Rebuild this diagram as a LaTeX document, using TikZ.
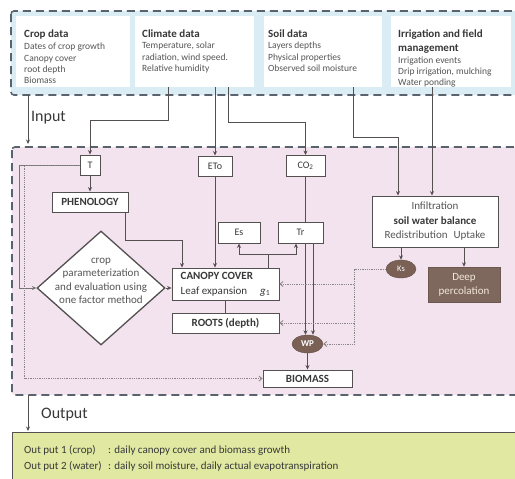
\documentclass[tikz,border=0pt]{standalone}
\usepackage{fontspec}
\setmainfont{Carlito}
\usetikzlibrary{arrows.meta,shapes.geometric}
\definecolor{bandblue}{HTML}{DAEDF4}
\definecolor{pinkbg}{HTML}{F2E3EE}
\definecolor{greenbg}{HTML}{E0E8A2}
\definecolor{brownfill}{HTML}{7A6055}
\definecolor{deepfill}{HTML}{7E685E}
\definecolor{deeptxt}{HTML}{F3E6DA}
\definecolor{framecol}{HTML}{59636E}
\definecolor{linecol}{HTML}{545050}
\definecolor{dotcol}{HTML}{8A8585}
\definecolor{txtcol}{HTML}{383838}
\definecolor{lighttxt}{HTML}{555555}
\begin{document}
\begin{tikzpicture}[x=1pt,y=-1pt,
  font=\fontsize{11}{13}\selectfont, text=txtcol,
  dframe/.style={draw=framecol, line width=1.6pt, dash pattern=on 8pt off 5pt, rounded corners=3pt},
  topbox/.style={fill=white, draw=none, anchor=north west, inner sep=0pt, minimum height=71pt},
  hdr/.style={anchor=north west, inner sep=0pt, align=left, font=\fontsize{11}{14}\selectfont\bfseries},
  bodytxt/.style={anchor=north west, inner sep=0pt, align=left, text=lighttxt, font=\fontsize{9.5}{11.3}\selectfont},
  nbox/.style={draw=linecol, fill=white, line width=0.9pt, inner sep=0pt, minimum height=20pt},
  small/.style={font=\fontsize{10}{12}\selectfont},
  bfl/.style={font=\fontsize{11}{13}\selectfont\bfseries},
  blob/.style={ellipse, fill=brownfill, draw=brownfill!85!black, text=white, inner sep=0pt},
  conn/.style={draw=linecol, line width=0.8pt},
  thinconn/.style={draw=linecol!80, line width=0.6pt},
  arr/.style={-{Stealth[length=4.5pt,width=4pt]}},
  dotconn/.style={draw=dotcol, line width=0.8pt, densely dotted, -{Straight Barb[length=3pt,width=5pt]}},
  biglabel/.style={anchor=west, inner sep=0pt, font=\fontsize{16}{18}\selectfont, text=txtcol}
]
\useasboundingbox (0,0) rectangle (515,479);
\clip (0,0) rectangle (515,479);

% ---- input band
\draw[dframe, fill=bandblue] (11,11) rectangle (545,95);
\node[topbox, minimum width=114pt] (crop) at (16,16) {};
\node[topbox, minimum width=119pt] (climate) at (135,16) {};
\node[topbox, minimum width=118pt] (soil) at (264,16) {};
\node[topbox, minimum width=120pt] (irr) at (391,16) {};

\node[hdr] (croph) at (24,29.5) {Crop data};
\node[bodytxt] (cropb) at (24,43) {Dates of crop growth\\Canopy cover\\root depth\\Biomass};
\node[hdr] (climh) at (142,29.5) {Climate data};
\node[bodytxt] (climb) at (142,42) {Temperature, solar\\radiation, wind speed.\\Relative humidity};
\node[hdr] (soilh) at (268,29.5) {Soil data};
\node[bodytxt] (soilb) at (268,42) {Layers depths\\Physical properties\\Observed soil moisture};
\node[hdr] (irrh) at (398,29.5) {Irrigation and field\\management};
\node[bodytxt] (irrb) at (398,56.5) {Irrigation events\\Drip irrigation, mulching\\Water ponding};

% ---- model frame
\draw[dframe, fill=pinkbg] (12,147) rectangle (545,395);

\coordinate (inS) at (28,95);
\coordinate (inE) at (28,144);
\draw[conn, arr] (inS) -- (inE);
\node[biglabel] (inlbl) at (31,118) {Input};

\coordinate (outS) at (28,395);
\coordinate (outE) at (28,431);
\draw[conn, arr] (outS) -- (outE);
\node[biglabel] (outlbl) at (41,415) {Output};

% ---- output box
\draw[draw=linecol, line width=1pt, fill=greenbg] (12,432) rectangle (545,495);
\node[anchor=west, inner sep=0pt, align=left, font=\fontsize{11}{16}\selectfont, text=txtcol] (outtxt) at (24,458)
  {\makebox[84pt][l]{Out put 1 (crop)}: daily canopy cover and biomass growth\\
   \makebox[84pt][l]{Out put 2 (water)}: daily soil moisture, daily actual evapotranspiration};

% ---- nodes
\node[nbox, small, minimum width=20pt] (T) at (90,165) {T};
\node[nbox, small, minimum width=34pt] (ETo) at (215,166) {ETo};
\node[nbox, small, minimum width=39pt, minimum height=21pt] (CO2) at (305.5,166) {CO\textsubscript{2}};
\node[nbox, bfl, minimum width=76pt] (PHEN) at (90,202) {PHENOLOGY};
\node[nbox, minimum width=126pt, minimum height=51pt, align=center, font=\fontsize{11}{14.5}\selectfont] (SWB) at (435,221.5)
  {\textcolor{lighttxt}{Infiltration}\\\textbf{soil water balance}\\\textcolor{lighttxt}{Redistribution\hspace{6pt}Uptake}};
\node[nbox, small, minimum width=42pt, minimum height=21pt] (Es) at (239,232.5) {Es};
\node[nbox, minimum width=107pt, minimum height=32pt, align=left, font=\fontsize{11}{15}\selectfont] (CAN) at (225.5,284)
  {\textbf{CANOPY COVER}\\Leaf expansion\hspace{13pt}\textit{g}\textsubscript{1}};
\node[nbox, bfl, minimum width=107pt] (ROOTS) at (225.5,323) {ROOTS (depth)};
\node[blob, minimum width=31pt, minimum height=18pt, font=\fontsize{9}{10}\selectfont\bfseries] (WP) at (307.5,344) {WP};
\node[nbox, bfl, minimum width=89pt, minimum height=17pt] (BIO) at (307.5,378.5) {BIOMASS};
\node[blob, minimum width=30pt, minimum height=18pt, font=\fontsize{8.5}{10}\selectfont] (Ks) at (401,269) {Ks};
\node[draw=deepfill!85!black, fill=deepfill, text=deeptxt, inner sep=0pt, minimum width=72pt, minimum height=35pt,
  align=center, font=\fontsize{11}{14}\selectfont] (Deep) at (464,284.5) {Deep\\percolation};
\node[draw=linecol, line width=1.3pt, fill=white, diamond, minimum width=128pt, minimum height=114pt, inner sep=0pt] (dia) at (101,288) {};
\node[align=center, inner sep=0pt, font=\fontsize{11}{13.3}\selectfont, text=lighttxt] (diatxt) at (101,281)
  {crop\\parameterization\\and evaluation using\\one factor method};

% CO2 line runs behind Tr
\draw[conn, arr] (CO2.south) -- ([xshift=-2pt]WP.north);
\node[nbox, small, minimum width=45pt, minimum height=21pt] (Tr) at (300.5,232.5) {Tr};

% ---- connectors
\draw[conn, arr] ([xshift=33pt]climate.south west) -- ++(0,33) -| (T.north);
\draw[conn, arr] (ETo.north |- climate.south) -- (ETo.north);
\draw[conn, arr] ([xshift=93pt]climate.south west) -- ++(0,35) -| (CO2.north);
\draw[conn, arr] ([xshift=89pt]soil.south west) -- ++(0,50) -| ([xshift=-37pt]SWB.north);
\draw[conn, arr] ([xshift=-3pt]SWB.north |- irr.south) -- ([xshift=-3pt]SWB.north);

\draw[conn, arr] (T.south) -- (PHEN.north);
\draw[thinconn, arr] (T.west) -- ++(-60,0) |- (dia.west);
\draw[dotconn] (T.west) -- ++(-55,0) |- (BIO.west);
\draw[conn, arr] ([xshift=35pt]PHEN.south) -- ++(0,28) -| ([xshift=-43.5pt]CAN.north);
\draw[conn, arr] (ETo.south) -- (ETo.south |- CAN.north);
\draw[conn, arr] ([xshift=12.5pt]Tr.south) -- ([xshift=5.5pt]WP.north);
\draw[conn, arr] ([xshift=42.5pt]CAN.north) -- ++(0,-13) -| (Es.south);
\draw[conn, arr] ([xshift=42.5pt]CAN.north) -- ++(0,-13) -| ([xshift=-4.5pt]Tr.south);
\draw[conn] (CAN.south) -- (ROOTS.north);
\draw[conn, arr] (dia.east) -- (dia.east -| CAN.west);
\draw[conn, arr] (Ks.north |- SWB.south) -- (Ks.north);
\draw[conn, arr] (Deep.north |- SWB.south) -- (Deep.north);
\draw[dotconn] (Ks.west) -- ++(-31,0) |- (CAN.east);
\draw[dotconn] (Ks.west) -- ++(-31,0) |- (ROOTS.east);
\draw[dotconn] (Ks.west) -- ++(-31,0) |- (WP.east);
\draw[conn, arr] (WP.south) -- (BIO.north);
\end{tikzpicture}
\end{document}
